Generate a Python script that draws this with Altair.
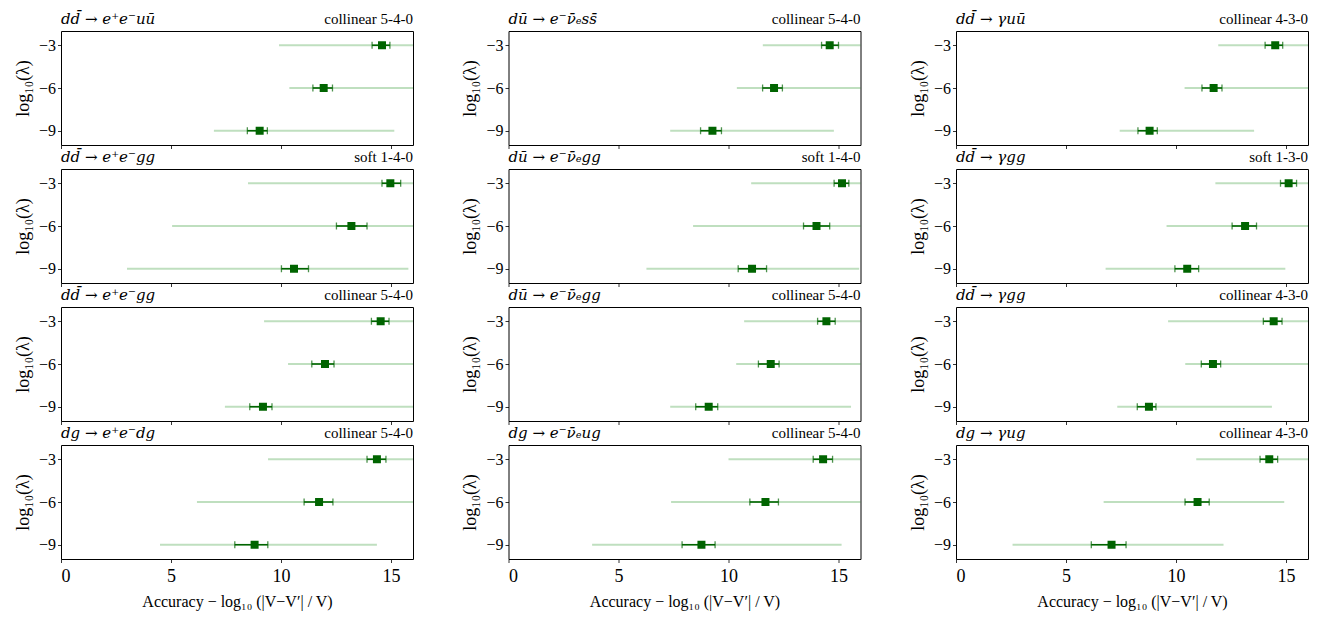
import altair as alt
import pandas as pd

lambdas = [-3, -6, -9]

left_titles = [
    "dd\u0304 \u2192 e\u207ae\u207buū", "dū \u2192 e\u207b\u03bd\u0304\u2091ss\u0304", "dd\u0304 \u2192 \u03b3uū",
    "dd\u0304 \u2192 e\u207ae\u207bgg", "dū \u2192 e\u207b\u03bd\u0304\u2091gg", "dd\u0304 \u2192 \u03b3gg",
    "dd\u0304 \u2192 e\u207ae\u207bgg", "dū \u2192 e\u207b\u03bd\u0304\u2091gg", "dd\u0304 \u2192 \u03b3gg",
    "dg \u2192 e\u207ae\u207bdg", "dg \u2192 e\u207b\u03bd\u0304\u2091ug", "dg \u2192 \u03b3ug",
]
right_titles = [
    "collinear 5-4-0", "collinear 5-4-0", "collinear 4-3-0",
    "soft 1-4-0", "soft 1-4-0", "soft 1-3-0",
    "collinear 5-4-0", "collinear 5-4-0", "collinear 4-3-0",
    "collinear 5-4-0", "collinear 5-4-0", "collinear 4-3-0",
]

centers = [
    [14.59, 11.94, 9.03], [14.60, 12.07, 9.27], [14.51, 11.71, 8.80],
    [14.97, 13.20, 10.59], [15.16, 14.00, 11.07], [15.12, 13.14, 10.51],
    [14.53, 12.00, 9.18], [14.45, 11.92, 9.10], [14.44, 11.68, 8.77],
    [14.36, 11.73, 8.80], [14.30, 11.68, 8.77], [14.24, 10.98, 7.07],
]
err_lo = [
    [14.14, 11.45, 8.47], [14.23, 11.55, 8.73], [14.05, 11.18, 8.27],
    [14.59, 12.52, 10.02], [14.80, 13.41, 10.44], [14.75, 12.55, 9.95],
    [14.11, 11.40, 8.58], [14.05, 11.36, 8.51], [13.97, 11.15, 8.24],
    [13.91, 11.05, 7.90], [13.85, 10.97, 7.89], [13.82, 10.41, 6.15],
]
err_hi = [
    [14.95, 12.34, 9.38], [15.00, 12.45, 9.68], [14.85, 12.09, 9.15],
    [15.44, 13.91, 11.25], [15.47, 14.60, 11.73], [15.48, 13.66, 11.03],
    [14.91, 12.41, 9.59], [14.85, 12.30, 9.51], [14.82, 12.03, 9.09],
    [14.77, 12.36, 9.40], [14.73, 12.27, 9.39], [14.62, 11.51, 7.73],
]
range_lo = [
    [9.91, 10.38, 6.95], [11.56, 10.38, 7.35], [11.92, 10.39, 7.44],
    [8.50, 5.05, 3.00], [11.03, 8.39, 6.27], [11.79, 9.57, 6.80],
    [9.23, 10.32, 7.45], [10.71, 10.35, 7.35], [9.64, 10.42, 7.33],
    [9.41, 6.18, 4.50], [10.00, 7.39, 3.80], [10.92, 6.71, 2.57],
]
range_hi = [
    [16.5, 16.5, 15.15], [16.5, 16.5, 14.79], [16.5, 16.5, 13.55],
    [16.5, 16.5, 15.79], [16.5, 16.5, 15.94], [16.5, 16.5, 14.97],
    [16.5, 16.5, 16.5], [16.5, 16.5, 15.57], [16.5, 16.5, 14.36],
    [16.5, 16.5, 14.36], [16.5, 16.5, 15.14], [16.5, 14.92, 12.16],
]

x_ticks = [0, 5, 10, 15]
W, H = 352, 114
FONT = "Liberation Serif"
MATHFONT = "DejaVu Serif"
DARK = "#006400"


def panel(i, bottom):
    df = pd.DataFrame({
        "lam": lambdas,
        "c": centers[i],
        "lo": err_lo[i],
        "hi": err_hi[i],
        "rlo": range_lo[i],
        "rhi": range_hi[i],
    })
    xaxis = alt.Axis(
        values=x_ticks, labels=bottom, grid=False, domain=False,
        tickColor="black", tickSize=3.5, tickWidth=0.8,
        labelFontSize=18, labelPadding=5, labelFont=FONT, labelColor="black",
        title="Accuracy \u2212 log\u2081\u2080 (|V\u2212V\u2032| / V)" if bottom else None,
        titleFontSize=16, titleFont=FONT, titleFontWeight="normal", titlePadding=8,
        titleColor="black",
    )
    yaxis = alt.Axis(
        values=lambdas, grid=False, domain=False, tickColor="black",
        tickSize=3.5, tickWidth=0.8, labelFontSize=16, labelFont=FONT,
        labelColor="black", labelPadding=2, title="log\u2081\u2080(\u03bb)",
        titleFontSize=18, titleFont=FONT, titleFontWeight="normal",
        titlePadding=6, titleColor="black",
    )
    xs = alt.Scale(domain=[0, 16], nice=False, zero=False)
    ys = alt.Scale(domain=[-10, -2], nice=False, zero=False)
    base = alt.Chart(df)
    rng = base.mark_rule(color="green", opacity=0.25, strokeWidth=2, clip=True).encode(
        x=alt.X("rlo:Q", scale=xs, axis=xaxis), x2="rhi:Q",
        y=alt.Y("lam:Q", scale=ys, axis=yaxis),
    )
    eb = base.mark_rule(color=DARK, strokeWidth=1.6).encode(
        x="lo:Q", x2="hi:Q", y="lam:Q")
    cap_lo = base.mark_tick(color=DARK, orient="vertical", size=7, thickness=1.3).encode(
        x="lo:Q", y="lam:Q")
    cap_hi = base.mark_tick(color=DARK, orient="vertical", size=7, thickness=1.3).encode(
        x="hi:Q", y="lam:Q")
    pts = base.mark_square(color=DARK, size=64, opacity=1).encode(
        x="c:Q", y="lam:Q")
    tdf = pd.DataFrame({"l": [left_titles[i]], "r": [right_titles[i]]})
    ltxt = alt.Chart(tdf).mark_text(
        align="left", baseline="alphabetic", font=MATHFONT, fontSize=15,
        fontStyle="italic", color="black",
    ).encode(x=alt.value(0), y=alt.value(-7), text="l:N")
    rtxt = alt.Chart(tdf).mark_text(
        align="right", baseline="alphabetic", font=FONT, fontSize=15, color="black",
    ).encode(x=alt.value(W), y=alt.value(-7), text="r:N")
    return alt.layer(rng, eb, cap_lo, cap_hi, pts, ltxt, rtxt).properties(width=W, height=H)


panels = [panel(i, i >= 9) for i in range(12)]

chart = alt.concat(
    *panels, columns=3, spacing={"row": 24, "column": 95.5}, bounds="flush"
).properties(
    padding={"left": 5, "top": 3, "right": 2, "bottom": 5}
).configure_view(
    stroke="black", strokeWidth=1
)

chart.save("out.html", embed_options={"renderer": "svg", "actions": False})
